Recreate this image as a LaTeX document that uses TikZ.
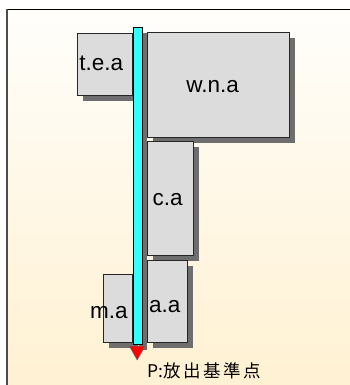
\documentclass[tikz,border=0pt]{standalone}
\usepackage{fontspec}
\setmainfont{Liberation Sans}
\newfontfamily\jpfont{Noto Sans CJK JP}
\newfontfamily\jpspaced[LetterSpace=14]{Noto Sans CJK JP}
\usetikzlibrary{shadows}
\definecolor{boxfill}{HTML}{DCDCDC}
\definecolor{shadowgray}{HTML}{6E6E6E}
\definecolor{bgtop}{HTML}{FFFEFB}
\definecolor{bgbot}{HTML}{FFF1D2}
\definecolor{barcyan}{HTML}{33FFFF}
\tikzset{
  area/.style={draw=black!85, line width=0.9pt, fill=boxfill, inner sep=0pt, anchor=north west,
    drop shadow={shadow xshift=5.5pt, shadow yshift=-5.5pt, fill=shadowgray, opacity=1}},
  lbl/.style={font=\fontsize{22.5}{26}\selectfont, inner sep=0pt, anchor=base},
}
\begin{document}
\begin{tikzpicture}[x=1pt,y=-1pt]
\useasboundingbox (0,0) rectangle (350,385);
\fill[white] (0,0) rectangle (350,385);
\shade[top color=bgtop, bottom color=bgbot] (7,9.5) rectangle (352,387);
\draw[black, line width=1pt] (6.5,9.5) -- (352,9.5);
\draw[black!70, line width=1.6pt] (7,9) -- (7,387);
% areas
\node[area, minimum width=55pt, minimum height=61.7pt] (tea) at (76.7,33.3) {};
\node[area, minimum width=142.6pt, minimum height=105pt] (wna) at (146.7,32.3) {};
\node[area, minimum width=46pt, minimum height=114.3pt] (ca) at (146.7,141) {};
\node[area, minimum width=40.6pt, minimum height=81.7pt] (aa) at (146.7,260) {};
\node[area, minimum width=28.4pt, minimum height=67.4pt] (ma) at (103.3,274.3) {};
% labels
\node[lbl] (teaT) at (101.3,71) {t.e.a};
\node[lbl] (wnaT) at (212.7,92.3) {w.n.a};
\node[lbl] (caT) at (167.7,205) {c.a};
\node[lbl] (aaT) at (164.7,312.7) {a.a};
\node[lbl] (maT) at (109,318.3) {m.a};
% bar
\node[draw=black, line width=0.9pt, fill=barcyan, inner sep=0pt, anchor=north west,
  minimum width=8.4pt, minimum height=317pt,
  drop shadow={shadow xshift=5pt, shadow yshift=-5pt, fill=shadowgray, opacity=1}] (bar) at (133.3,27.3) {};
% release point
\coordinate (P) at (137.2,360);
\fill[red, draw=black!60, line width=0.5pt] (129.3,346) -- (145.1,346) -- (P) -- cycle;
\node[inner sep=0pt, anchor=base west, font=\fontsize{17.5}{20}\selectfont] (Plbl) at (147.7,377.7) {{\jpfont P:}{\jpspaced 放出基準点}};
\end{tikzpicture}
\end{document}
